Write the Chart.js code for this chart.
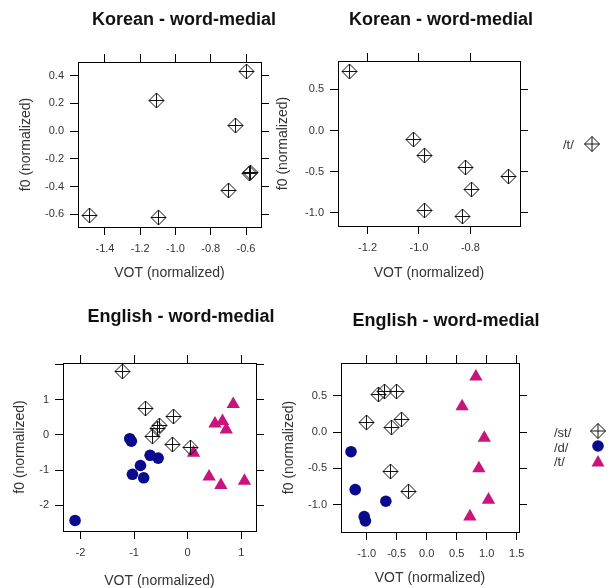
<!DOCTYPE html>
<html>
<head>
<meta charset="utf-8">
<script src="https://cdn.jsdelivr.net/npm/chart.js@4.4.1/dist/chart.umd.min.js"></script>
<style>
  body { margin: 0; background: #fff; }
  #wrap { position: relative; width: 613px; height: 588px; overflow: hidden; font-family: 'Liberation Sans', Arial, sans-serif; }
  canvas { position: absolute; left: 0; top: 0; }
  .title { position: absolute; font-weight: bold; font-size: 18px; color: #111; transform: translate(-50%, -50%); white-space: nowrap; }
  .leg { position: absolute; font-size: 13px; color: #333; transform: translateY(-50%); white-space: nowrap; }
  .sym { position: absolute; transform: translate(-50%, -50%); }
</style>
</head>
<body>
<div id="wrap">
  <canvas id="c1" width="613" height="588"></canvas>
  <canvas id="c2" width="613" height="588"></canvas>
  <canvas id="c3" width="613" height="588"></canvas>
  <canvas id="c4" width="613" height="588"></canvas>

  <div class="title" style="left:184px;top:19px">Korean - word-medial</div>
  <div class="title" style="left:441px;top:19px">Korean - word-medial</div>
  <div class="title" style="left:181px;top:316px">English - word-medial</div>
  <div class="title" style="left:446px;top:320px">English - word-medial</div>

  <div class="leg" style="left:563px;top:144px">/t/</div>
  <svg class="sym" style="left:592px;top:144px" width="17" height="17"><path d="M8.5 1L16 8.5L8.5 16L1 8.5ZM8.5 1V16M1 8.5H16" stroke="#111" fill="none"/></svg>

  <div class="leg" style="left:554px;top:432px">/st/</div>
  <div class="leg" style="left:554px;top:447px">/d/</div>
  <div class="leg" style="left:554px;top:461px">/t/</div>
  <svg class="sym" style="left:598px;top:431px" width="17" height="17"><path d="M8.5 1L16 8.5L8.5 16L1 8.5ZM8.5 1V16M1 8.5H16" stroke="#111" fill="none"/></svg>
  <svg class="sym" style="left:598px;top:446px" width="13" height="13"><circle cx="6.5" cy="6.5" r="5.8" fill="#0a0a8c"/></svg>
  <svg class="sym" style="left:598px;top:461px" width="15" height="13"><path d="M7.5 0.5L14 12L1 12Z" fill="#c8157e"/></svg>
</div>

<script>
// Korean, word-medial (left panel)
const korA_vot = [-0.60, -1.11, -0.66, -0.575, -0.58, -0.70, -1.485, -1.095];
const korA_f0  = [0.43, 0.22, 0.04, -0.295, -0.305, -0.43, -0.61, -0.62];

// Korean, word-medial (right panel)
const korB_vot = [-1.27, -1.02, -0.98, -0.82, -0.795, -0.65, -0.98, -0.83];
const korB_f0  = [0.71, -0.11, -0.30, -0.45, -0.72, -0.56, -0.97, -1.04];

// English, word-medial (left panel)
const engA_st_vot = [-1.22, -0.79, -0.27, -0.52, -0.57, -0.65, -0.28, 0.06];
const engA_st_f0  = [1.81, 0.74, 0.53, 0.27, 0.17, -0.06, -0.27, -0.37];
const engA_d_vot  = [-1.08, -1.05, -0.70, -0.55, -0.88, -1.03, -0.82, -2.10];
const engA_d_f0   = [-0.11, -0.18, -0.58, -0.66, -0.87, -1.12, -1.22, -2.43];
const engA_t_vot  = [0.85, 0.51, 0.65, 0.72, 0.11, 0.40, 0.62, 1.06];
const engA_t_f0   = [0.87, 0.32, 0.39, 0.15, -0.51, -1.19, -1.43, -1.31];

// English, word-medial (right panel)
const engB_st_vot = [-0.80, -0.71, -0.51, -1.01, -0.42, -0.58, -0.61, -0.31];
const engB_st_f0  = [0.51, 0.56, 0.55, 0.13, 0.17, 0.06, -0.54, -0.81];
const engB_d_vot  = [-1.26, -1.19, -0.68, -1.04, -1.02];
const engB_d_f0   = [-0.27, -0.79, -0.95, -1.16, -1.22];
const engB_t_vot  = [0.82, 0.59, 0.96, 0.87, 1.03, 0.72];
const engB_t_f0   = [0.76, 0.35, -0.08, -0.50, -0.93, -1.16];

// tick values and labels
const korA_xTicks = [-1.4, -1.2, -1.0, -0.8, -0.6];
const korA_xLabels = ['-1.4', '-1.2', '-1.0', '-0.8', '-0.6'];
const korA_yTicks = [-0.6, -0.4, -0.2, 0.0, 0.2, 0.4];
const korA_yLabels = ['-0.6', '-0.4', '-0.2', '0.0', '0.2', '0.4'];

const korB_xTicks = [-1.2, -1.0, -0.8];
const korB_xLabels = ['-1.2', '-1.0', '-0.8'];
const korB_yTicks = [-1.0, -0.5, 0.0, 0.5];
const korB_yLabels = ['-1.0', '-0.5', '0.0', '0.5'];

const engA_xTicks = [-2, -1, 0, 1];
const engA_xLabels = ['-2', '-1', '0', '1'];
const engA_yTicks = [-2, -1, 0, 1, 2];
const engA_yLabels = ['-2', '-1', '0', '1', ''];

const engB_xTicks = [-1.0, -0.5, 0.0, 0.5, 1.0, 1.5];
const engB_xLabels = ['-1.0', '-0.5', '0.0', '0.5', '1.0', '1.5'];
const engB_yTicks = [-1.0, -0.5, 0.0, 0.5];
const engB_yLabels = ['-1.0', '-0.5', '0.0', '0.5'];

Chart.defaults.font.family = "'Liberation Sans', Arial, sans-serif";
Chart.defaults.color = '#333';

// diamond with a plus inside (R pch 9)
const diamond = document.createElement('canvas');
diamond.width = 17;
diamond.height = 17;
(function () {
  const g = diamond.getContext('2d');
  g.strokeStyle = '#111';
  g.lineWidth = 1;
  g.beginPath();
  g.moveTo(8.5, 1); g.lineTo(16, 8.5); g.lineTo(8.5, 16); g.lineTo(1, 8.5); g.closePath();
  g.moveTo(8.5, 1); g.lineTo(8.5, 16);
  g.moveTo(1, 8.5); g.lineTo(16, 8.5);
  g.stroke();
})();

const zip = (xs, ys) => xs.map((x, i) => ({ x: x, y: ys[i] }));

const stSet = (xs, ys) => ({ data: zip(xs, ys), pointStyle: diamond, pointRadius: 8, clip: false });
const dSet = (xs, ys) => ({ data: zip(xs, ys), pointStyle: 'circle', pointRadius: 5.8, backgroundColor: '#0a0a8c', borderColor: '#0a0a8c', borderWidth: 0, clip: false });
const tSet = (xs, ys) => ({ data: zip(xs, ys), pointStyle: 'triangle', pointRadius: 7.7, backgroundColor: '#c8157e', borderColor: '#c8157e', borderWidth: 0, clip: false });

const OFF = 7; // half line height of the axis titles

// keep the diamond images crisp
const crisp = { id: 'crisp', beforeDatasetsDraw(chart) { chart.ctx.imageSmoothingEnabled = false; } };

function axis(pos, min, max, ticks, labels, size, title) {
  const horiz = pos === 'top' || pos === 'bottom';
  return {
    type: 'linear',
    position: pos,
    min: min,
    max: max,
    afterBuildTicks: s => { s.ticks = ticks.map(v => ({ value: v })); },
    afterFit: s => { if (horiz) s.height = size; else s.width = size; },
    ticks: {
      display: pos === 'bottom' || pos === 'left',
      autoSkip: false,
      maxRotation: 0,
      padding: horiz ? 7 : 6,
      color: '#333',
      font: { size: 11 },
      callback: (v, i) => labels[i]
    },
    grid: { drawOnChartArea: false, drawTicks: true, tickLength: 8, color: '#000', lineWidth: 1 },
    border: { display: true, color: '#000', width: 1 },
    title: title
      ? { display: true, text: title, color: '#333', font: { size: 14, lineHeight: 1 }, padding: 0 }
      : { display: false }
  };
}

function panel(id, p, datasets) {
  return new Chart(document.getElementById(id), {
    type: 'scatter',
    data: { datasets: datasets },
    plugins: [crisp],
    options: {
      responsive: false,
      animation: false,
      events: [],
      layout: {
        padding: { left: p.yTitleX - OFF, top: p.T - 8, right: 613 - p.R - 8, bottom: 588 - p.xTitleY - OFF }
      },
      plugins: { legend: { display: false }, tooltip: { enabled: false } },
      scales: {
        x: axis('bottom', p.xMin, p.xMax, p.xTicks, p.xLabels, p.xTitleY + OFF - p.B, 'VOT (normalized)'),
        x2: axis('top', p.xMin, p.xMax, p.xTicks, p.xLabels, 8),
        y: axis('left', p.yMin, p.yMax, p.yTicks, p.yLabels, p.L - p.yTitleX + OFF, 'f0 (normalized)'),
        y2: axis('right', p.yMin, p.yMax, p.yTicks, p.yLabels, 8)
      }
    }
  });
}

panel('c1', {
  L: 78, T: 62, R: 261, B: 227, yTitleX: 26, xTitleY: 273,
  xMin: -1.553, xMax: -0.515, yMin: -0.692, yMax: 0.499,
  xTicks: korA_xTicks, xLabels: korA_xLabels, yTicks: korA_yTicks, yLabels: korA_yLabels
}, [stSet(korA_vot, korA_f0)]);

panel('c2', {
  L: 338, T: 61, R: 520, B: 226, yTitleX: 283, xTitleY: 273,
  xMin: -1.315, xMax: -0.607, yMin: -1.158, yMax: 0.843,
  xTicks: korB_xTicks, xLabels: korB_xLabels, yTicks: korB_yTicks, yLabels: korB_yLabels
}, [stSet(korB_vot, korB_f0)]);

panel('c3', {
  L: 63, T: 363, R: 256, B: 531, yTitleX: 20.5, xTitleY: 581,
  xMin: -2.325, xMax: 1.275, yMin: -2.73, yMax: 2.04,
  xTicks: engA_xTicks, xLabels: engA_xLabels, yTicks: engA_yTicks, yLabels: engA_yLabels
}, [stSet(engA_st_vot, engA_st_f0), dSet(engA_d_vot, engA_d_f0), tSet(engA_t_vot, engA_t_f0)]);

panel('c4', {
  L: 341, T: 363, R: 519, B: 532, yTitleX: 289, xTitleY: 578,
  xMin: -1.427, xMax: 1.538, yMin: -1.372, yMax: 0.947,
  xTicks: engB_xTicks, xLabels: engB_xLabels, yTicks: engB_yTicks, yLabels: engB_yLabels
}, [stSet(engB_st_vot, engB_st_f0), dSet(engB_d_vot, engB_d_f0), tSet(engB_t_vot, engB_t_f0)]);
</script>
</body>
</html>
